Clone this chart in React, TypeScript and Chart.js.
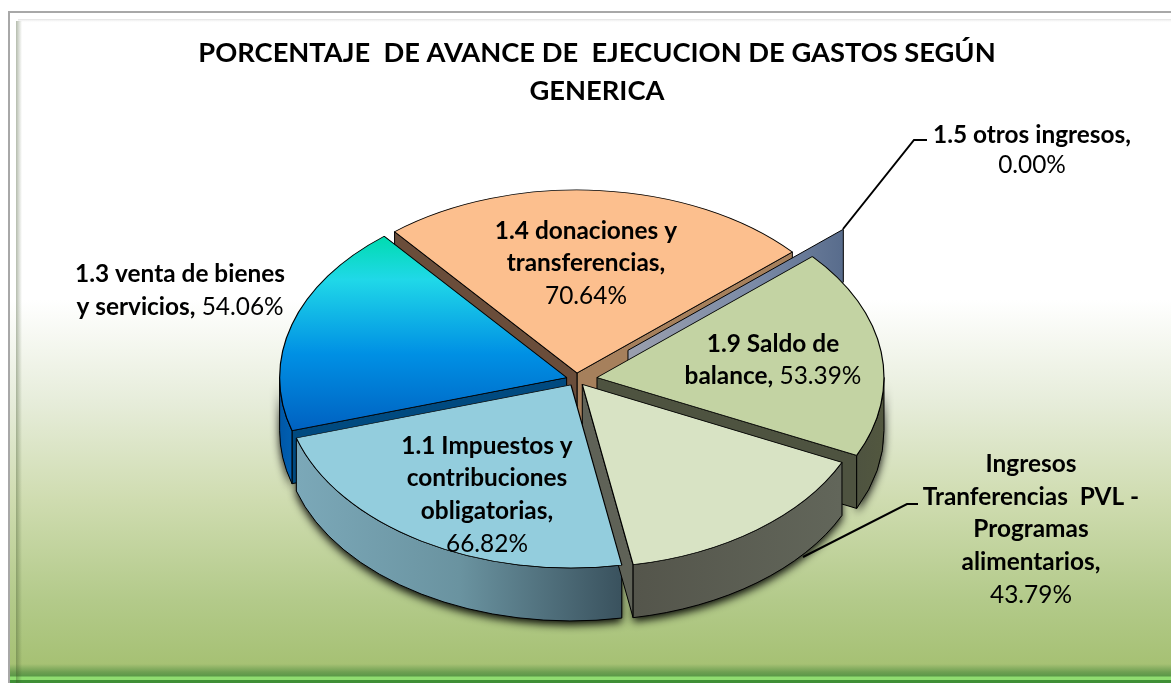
import React, { useEffect, useRef } from "react";
import { Chart, registerables } from "chart.js";

Chart.register(...registerables);

// ---- data ----
const categories = [
  "1.1 Impuestos y contribuciones obligatorias",
  "1.3 venta de bienes y servicios",
  "1.4 donaciones y transferencias",
  "1.5 otros ingresos",
  "1.9 Saldo de balance",
  "Ingresos Tranferencias PVL - Programas alimentarios",
];
const values = [66.82, 54.06, 70.64, 0, 53.39, 43.79];
const explode = [10, 10, 10, 69, 21, 10];
const titleLines = ["PORCENTAJE  DE AVANCE DE  EJECUCION DE GASTOS SEGÚN", "GENERICA"];
const labelNameLines = [
  ["1.1 Impuestos y", "contribuciones", "obligatorias,"],
  ["1.3 venta de bienes", "y servicios,"],
  ["1.4 donaciones y", "transferencias,"],
  ["1.5 otros ingresos,"],
  ["1.9 Saldo de", "balance,"],
  ["Ingresos", "Tranferencias  PVL -", "Programas", "alimentarios,"],
];

// ---- layout and style ----
const FONT = "Lato";
const LABEL_SIZE = 24.4;
const CX = 576.2, CY = 379.4, R = 287, TILT = 0.638, DEPTH = 53;
const labelPos = [
  { x: 487, y: 446, lh: 32.6, inline: false },
  { x: 180, y: 274, lh: 33, inline: true },
  { x: 586, y: 231, lh: 32.5, inline: false },
  { x: 1032, y: 135, lh: 30, inline: false },
  { x: 773, y: 344, lh: 32.5, inline: true },
  { x: 1031, y: 464, lh: 32.8, inline: false },
];
const leaders = [
  [[843, 229], [914, 140], [927, 140]],
  [[803, 557], [907, 504], [918, 504]],
];
const topColors = ["#93cddd", "", "#fcbf8e", "#8e97a8", "#c3d3a3", "#d8e3c4"];
const cutColors = [
  ["#3b5560", "#3b5560"],
  ["#004a80", "#004a80"],
  ["#6a4d3a", "#a6805c"],
  ["#8e97a8", "#8e97a8"],
  ["#4e5340", "#4e5340"],
  ["#53564b", "#5f6257"],
];
const paintOrder = [2, 3, 1, 4, 0, 5];

function wallFill(ctx: CanvasRenderingContext2D, i: number) {
  const h = (x0: number, x1: number, stops: string[]) => {
    const g = ctx.createLinearGradient(x0, 0, x1, 0);
    stops.forEach((s, k) => g.addColorStop(k / (stops.length - 1), s));
    return g;
  };
  if (i === 0) return h(298, 621, ["#7ba8b8", "#6a93a0", "#3a525e"]);
  if (i === 1) return h(281, 300, ["#0058a8", "#0064b8"]);
  if (i === 4) return h(855, 884, ["#4e5340", "#52573f"]);
  if (i === 5) return h(632, 840, ["#54554b", "#62665a"]);
  return "#888888";
}

// part of [a0, a1] facing the viewer (sin > 0), or null
function frontRange(a0: number, a1: number) {
  const TAU = Math.PI * 2;
  for (let k = -2; k <= 2; k++) {
    const lo = Math.max(a0, k * TAU);
    const hi = Math.min(a1, k * TAU + Math.PI);
    if (hi > lo) return [lo, hi];
  }
  return null;
}

const piePlugin = {
  id: "pie3d",
  beforeDraw(chart: any) {
    const ctx: CanvasRenderingContext2D = chart.ctx;
    const W = chart.width, H = chart.height;
    ctx.save();
    ctx.fillStyle = "#ffffff";
    ctx.fillRect(0, 0, W, H);
    const g = ctx.createLinearGradient(0, 0, 0, H);
    const stop = (y: number, c: string) => g.addColorStop(y / H, c);
    stop(0, "#ffffff");
    stop(300, "#ffffff");
    stop(400, "#e7eddb");
    stop(500, "#cfdcb0");
    stop(600, "#b3ca8a");
    stop(664, "#a6c174");
    stop(672, "#6e9f52");
    stop(676, "#5b9848");
    stop(677, "#8fdc70");
    stop(680, "#8fdc70");
    stop(680.5, "#3f8f35");
    stop(683, "#3f8f35");
    ctx.fillStyle = g;
    ctx.fillRect(8, 11, W - 8, H - 11);
    // frame: outer grey line, light band, inner edge
    ctx.fillStyle = "#a8a8a8";
    ctx.fillRect(8, 11, W - 8, 2);
    ctx.fillRect(8, 11, 2, H - 11);
    const top = ctx.createLinearGradient(0, 19, 0, 23);
    top.addColorStop(0, "rgba(225,225,225,1)");
    top.addColorStop(1, "rgba(255,255,255,0)");
    ctx.fillStyle = top;
    ctx.fillRect(18, 19, W - 18, 4);
    const left = ctx.createLinearGradient(16, 0, 22, 0);
    left.addColorStop(0, "rgba(60,80,40,0.38)");
    left.addColorStop(1, "rgba(60,80,40,0)");
    ctx.fillStyle = left;
    ctx.fillRect(16, 21, 6, H - 21);
    ctx.restore();
  },
  beforeDatasetsDraw(chart: any) {
    const ctx: CanvasRenderingContext2D = chart.ctx;
    const arcs = chart.getDatasetMeta(0).data;
    const ry = R * TILT;
    const geom = arcs.map((arc: any, i: number) => {
      const a0 = arc.startAngle, a1 = arc.endAngle;
      const mid = (a0 + a1) / 2;
      return {
        a0, a1,
        px: CX + Math.cos(mid) * explode[i],
        py: CY + Math.sin(mid) * explode[i] * TILT,
      };
    });
    const rim = (g: any, a: number) => [g.px + R * Math.cos(a), g.py + ry * Math.sin(a)];
    const outerPath = (g: any) => {
      const f = frontRange(g.a0, g.a1);
      if (!f) return false;
      ctx.beginPath();
      ctx.ellipse(g.px, g.py, R, ry, 0, f[0], f[1]);
      ctx.ellipse(g.px, g.py + DEPTH, R, ry, 0, f[1], f[0], true);
      ctx.closePath();
      return true;
    };
    const cutPath = (g: any, a: number) => {
      const [x, y] = rim(g, a);
      ctx.beginPath();
      ctx.moveTo(g.px, g.py);
      ctx.lineTo(x, y);
      ctx.lineTo(x, y + DEPTH);
      ctx.lineTo(g.px, g.py + DEPTH);
      ctx.closePath();
    };

    // soft shadow below the solid
    ctx.save();
    ctx.shadowColor = "rgba(0,0,0,0.95)";
    ctx.shadowBlur = 9;
    ctx.shadowOffsetY = 4;
    ctx.fillStyle = "#000";
    paintOrder.forEach((i) => {
      if (values[i] === 0) return;
      if (outerPath(geom[i])) ctx.fill();
    });
    ctx.shadowColor = "transparent";
    // faces turned away from the viewer only show as dark gaps
    paintOrder.forEach((i) => {
      if (values[i] === 0) return;
      const g = geom[i];
      if (Math.cos(g.a0) >= 0) { cutPath(g, g.a0); ctx.fill(); }
      if (Math.cos(g.a1) <= 0) { cutPath(g, g.a1); ctx.fill(); }
    });
    ctx.restore();

    ctx.save();
    ctx.lineWidth = 1;
    ctx.strokeStyle = "#000";
    ctx.lineJoin = "round";
    paintOrder.forEach((i) => {
      const g = geom[i];
      const cut = (a: number, fill: any) => {
        cutPath(g, a);
        ctx.fillStyle = fill;
        ctx.fill();
        ctx.stroke();
      };
      if (values[i] === 0) {
        const [x] = rim(g, g.a0);
        const sl = ctx.createLinearGradient(g.px, 0, x, 0);
        sl.addColorStop(0, "#9a9fae");
        sl.addColorStop(0.6, "#7a8aa6");
        sl.addColorStop(1, "#586c8c");
        cut(g.a0, sl);
        return;
      }
      if (Math.cos(g.a1) > 0) cut(g.a1, cutColors[i][1]);
      if (Math.cos(g.a0) < 0) cut(g.a0, cutColors[i][0]);
      if (outerPath(g)) {
        ctx.fillStyle = wallFill(ctx, i);
        ctx.fill();
        ctx.stroke();
      }
    });
    ctx.restore();

    // top faces, drawn by the library's own arc elements
    arcs.forEach((arc: any, i: number) => {
      ctx.save();
      ctx.translate(geom[i].px, geom[i].py);
      ctx.scale(1, TILT);
      ctx.translate(-arc.x, -arc.y);
      arc.draw(ctx);
      ctx.restore();
    });
    return false;
  },
  afterDraw(chart: any) {
    const ctx: CanvasRenderingContext2D = chart.ctx;
    ctx.save();
    ctx.strokeStyle = "#000";
    ctx.lineWidth = 2;
    leaders.forEach((pts) => {
      ctx.beginPath();
      pts.forEach(([x, y], k) => (k ? ctx.lineTo(x, y) : ctx.moveTo(x, y)));
      ctx.stroke();
    });
    ctx.textBaseline = "middle";
    ctx.fillStyle = "#000";
    const bold = `bold ${LABEL_SIZE}px ${FONT}`;
    const normal = `${LABEL_SIZE}px ${FONT}`;
    labelNameLines.forEach((lines, i) => {
      const p = labelPos[i];
      const pct = values[i].toFixed(2) + "%";
      ctx.textAlign = "left";
      lines.forEach((line, k) => {
        const isLast = k === lines.length - 1;
        const y = p.y + k * p.lh;
        ctx.font = bold;
        const wb = ctx.measureText(line).width;
        ctx.font = normal;
        const suffix = isLast && p.inline ? " " + pct : "";
        const ws = ctx.measureText(suffix).width;
        const x0 = p.x - (wb + ws) / 2;
        ctx.font = bold;
        ctx.fillText(line, x0, y);
        if (suffix) {
          ctx.font = normal;
          ctx.fillText(suffix, x0 + wb, y);
        }
      });
      if (!p.inline) {
        ctx.font = normal;
        ctx.textAlign = "center";
        ctx.fillText(pct, p.x, p.y + lines.length * p.lh);
      }
    });
    ctx.restore();
  },
};

export default function App() {
  const ref = useRef<HTMLCanvasElement>(null);
  useEffect(() => {
    const chart = new Chart(ref.current as HTMLCanvasElement, {
      type: "pie",
      plugins: [piePlugin as any],
      data: {
        labels: categories,
        datasets: [
          {
            data: values,
            borderColor: "#000",
            borderWidth: 1.2,
            backgroundColor: (c: any) => {
              const i = c.dataIndex;
              const area = c.chart.chartArea;
              if (i !== 1) return topColors[i] || "#0090e4";
              if (!area) return "#0090e4";
              const my = (area.top + area.bottom) / 2;
              const g = c.chart.ctx.createLinearGradient(0, my - 221, 0, my + 86);
              g.addColorStop(0, "#00dcb0");
              g.addColorStop(0.22, "#20d8e8");
              g.addColorStop(0.6, "#0090e4");
              g.addColorStop(1, "#0060c0");
              return g;
            },
          },
        ],
      },
      options: {
        responsive: false,
        animation: false,
        rotation: 169.8,
        radius: R,
        layout: { padding: { left: 23, top: 0, right: 0, bottom: 0 } },
        plugins: {
          legend: { display: false },
          tooltip: { enabled: false },
          title: {
            display: true,
            text: titleLines,
            color: "#000",
            font: { family: FONT, size: 27.3, weight: "bold", lineHeight: 1.4 },
            padding: { top: 34, bottom: 10 },
          },
        },
      } as any,
    });
    return () => chart.destroy();
  }, []);
  return (
    <div style={{ position: "fixed", left: 0, top: 0, width: 1171, height: 683, overflow: "hidden" }}>
      <canvas ref={ref} width={1171} height={683} style={{ display: "block" }} />
    </div>
  );
}
